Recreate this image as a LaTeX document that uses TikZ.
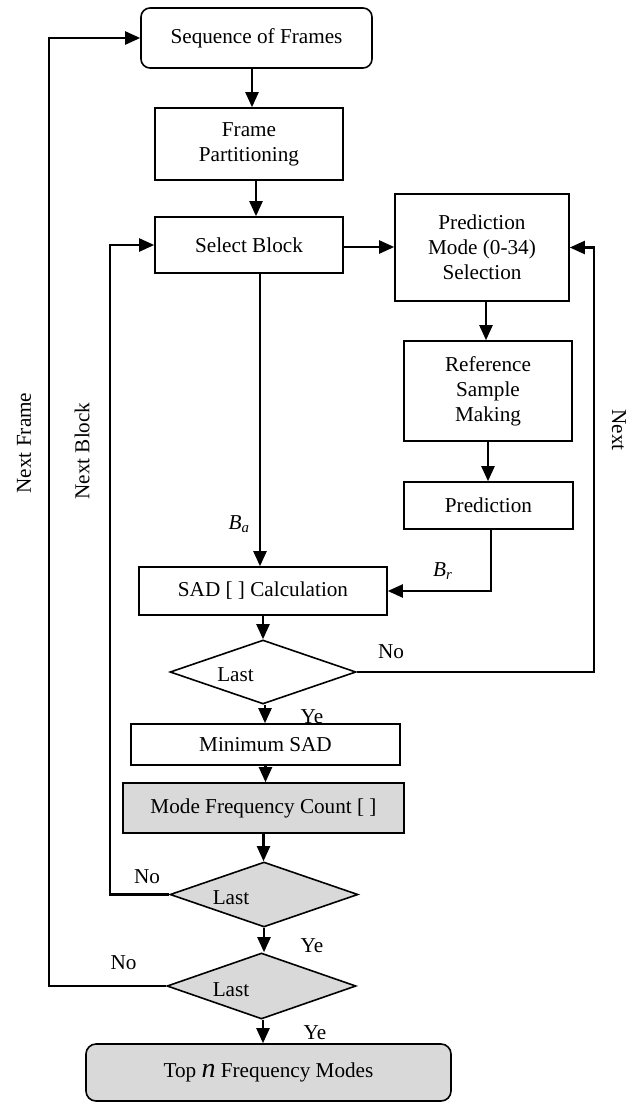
\documentclass[tikz,border=0pt]{standalone}
\usepackage{fontspec}
\setmainfont{Liberation Serif}
\usetikzlibrary{arrows.meta,shapes.geometric}
\definecolor{boxgray}{HTML}{D9D9D9}
\begin{document}
\begin{tikzpicture}[x=1pt,y=-1pt,
  font=\fontsize{21.2}{25}\selectfont,
  box/.style={draw, line width=1.6pt, rectangle, inner sep=0pt, align=center},
  rbox/.style={box, rounded corners=9pt},
  gbox/.style={fill=boxgray},
  dia/.style={draw, line width=1.6pt, diamond, inner sep=0pt},
  arr/.style={line width=2.2pt, -{Triangle[length=15pt,width=13pt]}},
  lbl/.style={anchor=base, inner sep=0pt},
]
\useasboundingbox (0,0) rectangle (634,1103);

% boxes
\node[rbox, minimum width=231pt, minimum height=60pt] (seq) at (256.5,38) {Sequence of Frames};
\node[box, minimum width=188pt, minimum height=72pt] (fp) at (249,144) {Frame\\Partitioning};
\node[box, minimum width=188pt, minimum height=56pt] (sel) at (249,245) {Select Block};
\node[box, minimum width=174pt, minimum height=107pt] (pm) at (482,247.5) {Prediction\\Mode (0-34)\\Selection};
\node[box, minimum width=168pt, minimum height=100pt] (ref) at (488,391) {Reference\\Sample\\Making};
\node[box, minimum width=169pt, minimum height=47pt] (pred) at (488.5,505.5) {Prediction};
\node[box, minimum width=248pt, minimum height=48pt] (sad) at (263,591) {SAD [ ] Calculation};
\node[dia, minimum width=186pt, minimum height=64pt] (d1) at (263,672) {};
\node[box, minimum width=269pt, minimum height=41pt] (min) at (265.5,744.5) {Minimum SAD};
\node[box, gbox, minimum width=281pt, minimum height=50pt] (mfc) at (263.5,808) {Mode Frequency Count [ ]};
\node[dia, gbox, minimum width=188pt, minimum height=65pt] (d2) at (264,894.5) {};
\node[dia, gbox, minimum width=189pt, minimum height=66pt] (d3) at (261.5,986) {};
\node[rbox, gbox, rounded corners=10pt, minimum width=365pt, minimum height=57pt] (top) at (268.5,1072.5) {Top {\fontsize{28}{28}\selectfont\itshape n} Frequency Modes};

% free ends of loop connectors
\coordinate (nextc) at (594,247.5);
\coordinate (nbc) at (110,245);
\coordinate (nfc) at (49,38);

% connectors
\draw[arr] ([xshift=-4.5pt]seq.south) -- ([xshift=-4.5pt]seq.south |- fp.north);
\draw[arr] ([xshift=7pt]fp.south) -- ([xshift=7pt]sel.north);
\draw[arr] ([xshift=11pt]sel.south) -- ([xshift=11pt]sel.south |- sad.north);
\draw[arr] ([yshift=-2pt]sel.east) -- ([yshift=-2pt]sel.east -| pm.west);
\draw[arr] ([xshift=4pt]pm.south) -- ([xshift=4pt]pm.south |- ref.north);
\draw[arr] (ref.south) -- (ref.south |- pred.north);
\draw[arr] ([xshift=2.5pt]pred.south) |- (sad.east);
\draw[arr] (sad.south) -- (d1.north);
\draw[arr] (d1.east) -| (nextc) -- (pm.east);
\draw[arr] ([xshift=2pt]d1.south) -- ([xshift=2pt]d1.south |- min.north);
\draw[arr] (min.south) -- (min.south |- mfc.north);
\draw[arr] (mfc.south) -- (mfc.south |- d2.north);
\draw[arr] (d2.west) -| (nbc) -- (sel.west);
\draw[arr] (d2.south) -- (d2.south |- d3.north);
\draw[arr] (d3.west) -| (nfc) -- (seq.west);
\draw[arr] ([xshift=1.5pt]d3.south) -- ([xshift=1.5pt]d3.south |- top.north);

% labels
\node[lbl] (l1) at (235.5,681) {Last};
\node[lbl] (l2) at (231,904) {Last};
\node[lbl] (l3) at (231,996) {Last};
\node[lbl] (no1) at (391,658) {No};
\node[lbl] (ye1) at (312,723) {Ye};
\node[lbl] (no2) at (147,883) {No};
\node[lbl] (ye2) at (312,952) {Ye};
\node[lbl] (no3) at (123.5,969) {No};
\node[lbl] (ye3) at (315,1039) {Ye};
\node[lbl] (ba) at (239,529) {\textit{B}\textsubscript{\textit{a}}};
\node[anchor=base west, inner sep=0pt] (br) at (433,576) {\textit{B}\textsubscript{\textit{r}}};
\node[rotate=-90] (nxt) at (619,430) {Next};
\node[rotate=90] (nfr) at (24,443) {Next Frame};
\node[rotate=90] (nbl) at (82,451) {Next Block};
\end{tikzpicture}
\end{document}
